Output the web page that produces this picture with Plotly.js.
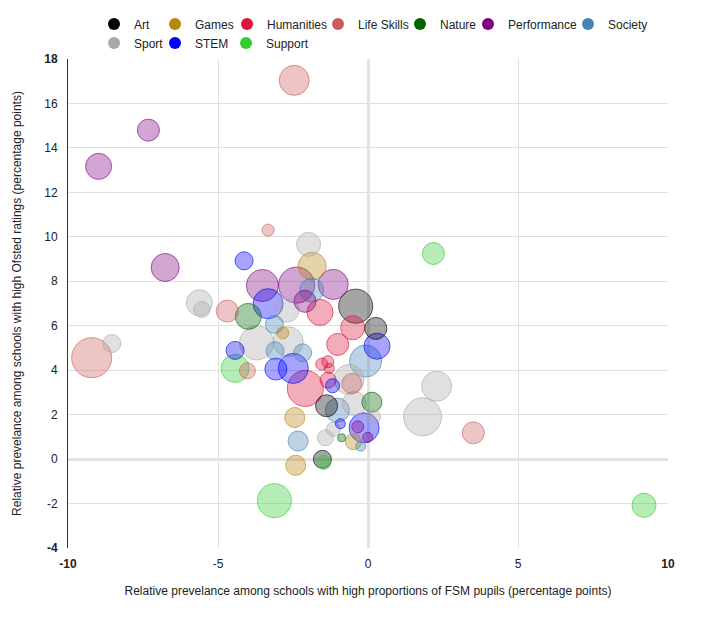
<!DOCTYPE html>
<html>
<head>
<meta charset="utf-8">
<script src="https://cdn.plot.ly/plotly-3.0.1.min.js"></script>
<style>
  html, body { margin: 0; padding: 0; background: #fff; }
  #chart { width: 720px; height: 622px; }
</style>
</head>
<body>
<div id="chart"></div>
<script>
/* global Plotly */

// each point: [x, y, bubble size]
const art = [[-0.41, 6.88, 17], [0.26, 5.88, 11], [-1.38, 2.4, 11], [-1.52, -0.01, 9]]
const games = [[-1.86, 8.68, 14], [-2.84, 5.68, 6], [-2.44, 1.87, 10], [-0.49, 0.78, 8], [-2.41, -0.28, 10]]
const humanities = [[-1.6, 6.6, 13], [-0.51, 5.91, 12], [-1.01, 5.16, 11], [-1.54, 4.27, 6], [-1.34, 4.38, 6],
  [-1.29, 4.08, 5], [-2.09, 3.18, 18], [-1.33, 3.55, 8]]
const lifeSkills = [[-2.46, 17.04, 15], [-3.33, 10.3, 6], [-4.69, 6.66, 11], [-4.02, 3.97, 8], [-9.21, 4.56, 20],
  [-0.54, 3.4, 10], [3.51, 1.18, 11]]
const nature = [[-3.99, 6.42, 13], [0.13, 2.56, 10], [-0.88, 0.96, 4]]
const performance = [[-7.32, 14.8, 11], [-8.98, 13.17, 13], [-6.76, 8.62, 14], [-3.52, 7.81, 16], [-2.38, 7.83, 18],
  [-1.16, 7.86, 15], [-2.1, 7.1, 11], [-0.34, 1.45, 6], [-0.01, 0.98, 5]]
const society = [[-1.88, 7.6, 12], [-3.12, 6.06, 9], [-3.1, 4.87, 9], [-2.18, 4.78, 9], [-0.08, 4.41, 16],
  [-1.02, 2.2, 12], [-2.33, 0.81, 10], [-0.24, 0.58, 5]]
const sport = [[-1.98, 9.66, 12], [-5.62, 7.03, 13], [-5.54, 6.73, 8], [-2.7, 6.7, 12], [-3.71, 5.23, 17],
  [-2.66, 5.28, 15], [-8.54, 5.2, 9], [-0.63, 3.58, 15], [-0.46, 2.5, 12], [0.18, 1.9, 7], [-1.16, 1.34, 7],
  [-1.42, 0.96, 8], [2.29, 3.28, 15], [1.82, 1.9, 19]]
const stem = [[-4.13, 8.92, 9], [-3.33, 6.99, 15], [-4.43, 4.89, 9], [-3.07, 4.05, 11], [-2.49, 4.08, 15],
  [0.3, 5.08, 13], [-1.18, 3.3, 7], [-0.92, 1.59, 5], [-0.13, 1.41, 15]]
const support = [[-4.43, 4.08, 14], [-3.12, -1.87, 17], [2.18, 9.25, 11], [9.2, -2.08, 12], [-1.47, -0.15, 7]]

const categories = ['Art', 'Games', 'Humanities', 'Life Skills', 'Nature', 'Performance', 'Society', 'Sport', 'STEM', 'Support']
const series = [art, games, humanities, lifeSkills, nature, performance, society, sport, stem, support]

const xTicks = [-10, -5, 0, 5, 10]
const yTicks = [-4, -2, 0, 2, 4, 6, 8, 10, 12, 14, 16, 18]

const colors = ['0,0,0', '184,134,11', '220,20,60', '205,92,92', '0,100,0', '128,0,128',
  '70,130,180', '169,169,169', '0,0,255', '50,205,50']

// legend entry positions in the window (circle centre x, row y)
const legendSpots = [[122, 24], [183, 24], [255, 24], [346, 24], [428, 24], [496, 24], [596, 24],
  [122, 43], [183, 43], [254, 43]]

const font = 'Arial, "Liberation Sans", sans-serif'
const W = 720
const H = 622
const margin = { l: 68, r: 52, t: 59, b: 74, autoexpand: false }

// big bubbles first so small ones stay on top
const points = []
series.forEach((list, i) => {
  list.forEach(p => points.push({ x: p[0], y: p[1], s: p[2], c: colors[i], name: categories[i] }))
})
points.sort((a, b) => b.s - a.s)

const traces = [{
  type: 'scatter',
  mode: 'markers',
  x: points.map(p => p.x),
  y: points.map(p => p.y),
  showlegend: false,
  hoverinfo: 'skip',
  marker: {
    size: points.map(p => p.s),
    sizemode: 'diameter',
    sizeref: 0.5,
    color: points.map(p => 'rgba(' + p.c + ',0.5)'),
    line: { width: 1, color: points.map(p => 'rgb(' + p.c + ')') }
  }
}]

const boldEnds = (vals) => vals.map((v, i) => (i === 0 || i === vals.length - 1) ? '<b>' + v + '</b>' : String(v))

const layout = {
  width: W,
  height: H,
  margin: margin,
  paper_bgcolor: '#fff',
  plot_bgcolor: '#fff',
  font: { family: font, size: 12, color: '#222' },
  hovermode: false,
  xaxis: {
    range: [-10, 10],
    tickmode: 'array',
    tickvals: xTicks,
    ticktext: boldEnds(xTicks),
    showgrid: true,
    gridcolor: '#e0e0e0',
    zeroline: true,
    zerolinecolor: '#e3e3e3',
    zerolinewidth: 3,
    showline: false,
    ticks: 'outside',
    ticklen: 5,
    tickcolor: 'rgba(0,0,0,0)',
    tickfont: { family: font, size: 12, color: '#222' },
    title: {
      text: 'Relative prevelance among schools with high proportions of FSM pupils (percentage points)',
      font: { family: font, size: 12, color: '#222' },
      standoff: 16
    },
    fixedrange: true
  },
  yaxis: {
    range: [-4, 18],
    tickmode: 'array',
    tickvals: yTicks,
    ticktext: boldEnds(yTicks),
    showgrid: true,
    gridcolor: '#e0e0e0',
    zeroline: true,
    zerolinecolor: '#e3e3e3',
    zerolinewidth: 3,
    showline: true,
    linecolor: '#333',
    linewidth: 1,
    ticks: 'outside',
    ticklen: 7,
    tickcolor: 'rgba(0,0,0,0)',
    tickfont: { family: font, size: 12, color: '#222' },
    title: {
      text: 'Relative prevelance among schools with high Ofsted ratings (percentage points)',
      font: { family: font, size: 12, color: '#222' },
      standoff: 20
    },
    fixedrange: true
  }
}

// one single-entry legend per category so each sits where the reference puts it
const plotW = W - margin.l - margin.r
const plotH = H - margin.t - margin.b
categories.forEach((name, i) => {
  const key = i === 0 ? 'legend' : 'legend' + (i + 1)
  traces.push({
    type: 'scatter',
    mode: 'markers',
    x: [null],
    y: [null],
    name: name,
    legend: key,
    showlegend: true,
    hoverinfo: 'skip',
    marker: { size: 12, color: 'rgb(' + colors[i] + ')' }
  })
  layout[key] = {
    x: (legendSpots[i][0] - 28 - margin.l) / plotW,
    y: (H - margin.b - legendSpots[i][1]) / plotH,
    xanchor: 'left',
    yanchor: 'middle',
    bgcolor: 'rgba(0,0,0,0)',
    font: { family: font, size: 12, color: '#222' }
  }
})

Plotly.newPlot('chart', traces, layout, { displayModeBar: false, staticPlot: true })
</script>
</body>
</html>
